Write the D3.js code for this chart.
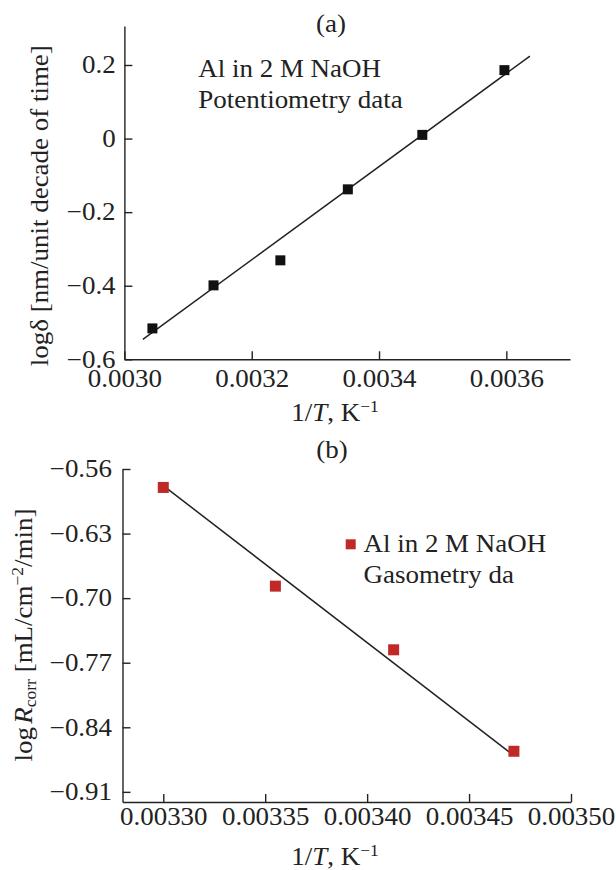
<!DOCTYPE html>
<html>
<head>
<meta charset="utf-8">
<script src="https://cdn.jsdelivr.net/npm/d3@7"></script>
<style>
  html, body { margin: 0; padding: 0; background: #fff; }
  svg { display: block; }
  text { font-family: "Liberation Serif", "Times New Roman", serif; fill: #222; }
</style>
</head>
<body>
<svg id="chart" width="616" height="870"></svg>
<script>
// Panel (a): potentiometry, log of film growth rate vs reciprocal temperature
const invTA = [0.003044, 0.003140, 0.003245, 0.003351, 0.003468, 0.003597];
const logDelta = [-0.516, -0.399, -0.331, -0.138, 0.010, 0.186];
const fitAx = [0.003029, 0.003637];
const fitAy = [-0.546, 0.224];
const ticksAx = [0.0030, 0.0032, 0.0034, 0.0036];
const ticksAy = [-0.6, -0.4, -0.2, 0, 0.2];

// Panel (b): gasometry, log of corrosion rate vs reciprocal temperature
const invTB = [0.003300, 0.003355, 0.003413, 0.003472];
const logRcorr = [-0.580, -0.687, -0.756, -0.866];
const fitBx = [0.003300, 0.0034696];
const fitBy = [-0.578, -0.8667];
const ticksBx = [0.00330, 0.00335, 0.00340, 0.00345, 0.00350];
const ticksBy = [-0.56, -0.63, -0.70, -0.77, -0.84, -0.91];

const SX = 1.1;          // horizontal stretch of the serif lettering
const FS = 24.5;         // base font size
const INK = "#222";
const RED = "#bf2a26";

const svg = d3.select("#chart");
svg.append("rect").attr("width", 616).attr("height", 870).attr("fill", "#fff");

function stretchTicks(g) {
  g.selectAll(".tick text")
    .attr("font-size", FS)
    .attr("font-family", "'Liberation Serif', serif")
    .attr("fill", INK)
    .attr("transform", `scale(${SX},1)`);
  g.selectAll("path, line").attr("stroke", INK).attr("stroke-width", 1.4);
}

function label(x, y, str, anchor, rotate) {
  return svg.append("text")
    .attr("transform", `translate(${x},${y})` + (rotate ? ` rotate(${rotate})` : "") + ` scale(${SX},1)`)
    .attr("text-anchor", anchor || "start")
    .attr("font-size", FS)
    .text(str);
}

function xTitle(cx, baseline) {
  const t = svg.append("text")
    .attr("transform", `translate(${cx},${baseline}) scale(${SX},1)`)
    .attr("text-anchor", "middle")
    .attr("font-size", FS);
  t.append("tspan").text("1/");
  t.append("tspan").attr("font-style", "italic").text("T");
  t.append("tspan").text(", K");
  t.append("tspan").attr("font-size", FS * 0.65).attr("dy", -9).text("\u22121");
}

const fmtA = v => v === 0 ? "0" : d3.format(".1f")(v);

// ---------- Panel (a) ----------
const xA = d3.scaleLinear().domain([0.0030, 0.0037]).range([124.4, 570]);
const yA = d3.scaleLinear().domain([-0.6, 0.306]).range([359.3, 26]);

svg.append("g")
  .attr("transform", `translate(0,${yA(-0.6)})`)
  .call(d3.axisBottom(xA).tickValues(ticksAx).tickFormat(d3.format(".4f"))
        .tickSizeInner(-8).tickSizeOuter(0).tickPadding(10.5))
  .call(stretchTicks);

svg.append("g")
  .attr("transform", `translate(${xA(0.0030)},0)`)
  .call(d3.axisLeft(yA).tickValues(ticksAy).tickFormat(fmtA)
        .tickSizeInner(-8).tickSizeOuter(0).tickPadding(8))
  .call(stretchTicks);

svg.append("line")
  .attr("x1", xA(fitAx[0])).attr("y1", yA(fitAy[0]))
  .attr("x2", xA(fitAx[1])).attr("y2", yA(fitAy[1]))
  .attr("stroke", INK).attr("stroke-width", 1.5);

const SQ_A = 10;
svg.append("g").selectAll("rect")
  .data(invTA.map((x, i) => [x, logDelta[i]]))
  .join("rect")
  .attr("x", d => xA(d[0]) - SQ_A / 2)
  .attr("y", d => yA(d[1]) - SQ_A / 2)
  .attr("width", SQ_A).attr("height", SQ_A)
  .attr("fill", "#111");

label(331, 32, "(a)", "middle");
label(198.3, 77, "Al in 2 M NaOH");
label(198.3, 108, "Potentiometry data");
label(48, 205.7, "log\u03b4 [nm/unit decade of time]", "middle", -90);
xTitle(335, 421);

// ---------- Panel (b) ----------
const xB = d3.scaleLinear().domain([0.00328, 0.0035]).range([122.5, 571]);
const yB = d3.scaleLinear().domain([-0.921, -0.56]).range([802, 469]);

svg.append("g")
  .attr("transform", `translate(0,${yB(-0.921)})`)
  .call(d3.axisBottom(xB).tickValues(ticksBx).tickFormat(d3.format(".5f"))
        .tickSizeInner(-8).tickSizeOuter(0).tickPadding(6))
  .call(stretchTicks);

svg.append("g")
  .attr("transform", `translate(${xB(0.00328)},0)`)
  .call(d3.axisLeft(yB).tickValues(ticksBy).tickFormat(d3.format(".2f"))
        .tickSizeInner(-8).tickSizeOuter(0).tickPadding(9.5))
  .call(stretchTicks);

svg.append("line")
  .attr("x1", xB(fitBx[0])).attr("y1", yB(fitBy[0]))
  .attr("x2", xB(fitBx[1])).attr("y2", yB(fitBy[1]))
  .attr("stroke", INK).attr("stroke-width", 1.5);

const SQ_B = 11;
svg.append("g").selectAll("rect")
  .data(invTB.map((x, i) => [x, logRcorr[i]]))
  .join("rect")
  .attr("x", d => xB(d[0]) - SQ_B / 2)
  .attr("y", d => yB(d[1]) - SQ_B / 2)
  .attr("width", SQ_B).attr("height", SQ_B)
  .attr("fill", RED);

// legend of panel (b)
svg.append("rect")
  .attr("x", 350.7 - 5).attr("y", 544.3 - 5)
  .attr("width", 10).attr("height", 10)
  .attr("fill", RED);
label(363.5, 552, "Al in 2 M NaOH");
label(363.5, 583, "Gasometry da");

label(332, 458, "(b)", "middle");

// y title of panel (b) with italic R, subscript and superscript
const yt = svg.append("text")
  .attr("transform", `translate(32,635) rotate(-90) scale(${SX},1)`)
  .attr("text-anchor", "middle")
  .attr("font-size", FS);
yt.append("tspan").text("log");
yt.append("tspan").attr("font-style", "italic").attr("dx", 3).text("R");
yt.append("tspan").attr("font-size", FS * 0.65).attr("dy", 4).text("corr");
yt.append("tspan").attr("dy", -4).text(" [mL/cm");
yt.append("tspan").attr("font-size", FS * 0.65).attr("dy", -9).text("\u22122");
yt.append("tspan").attr("dy", 9).text("/min]");

xTitle(335, 865);
</script>
</body>
</html>
